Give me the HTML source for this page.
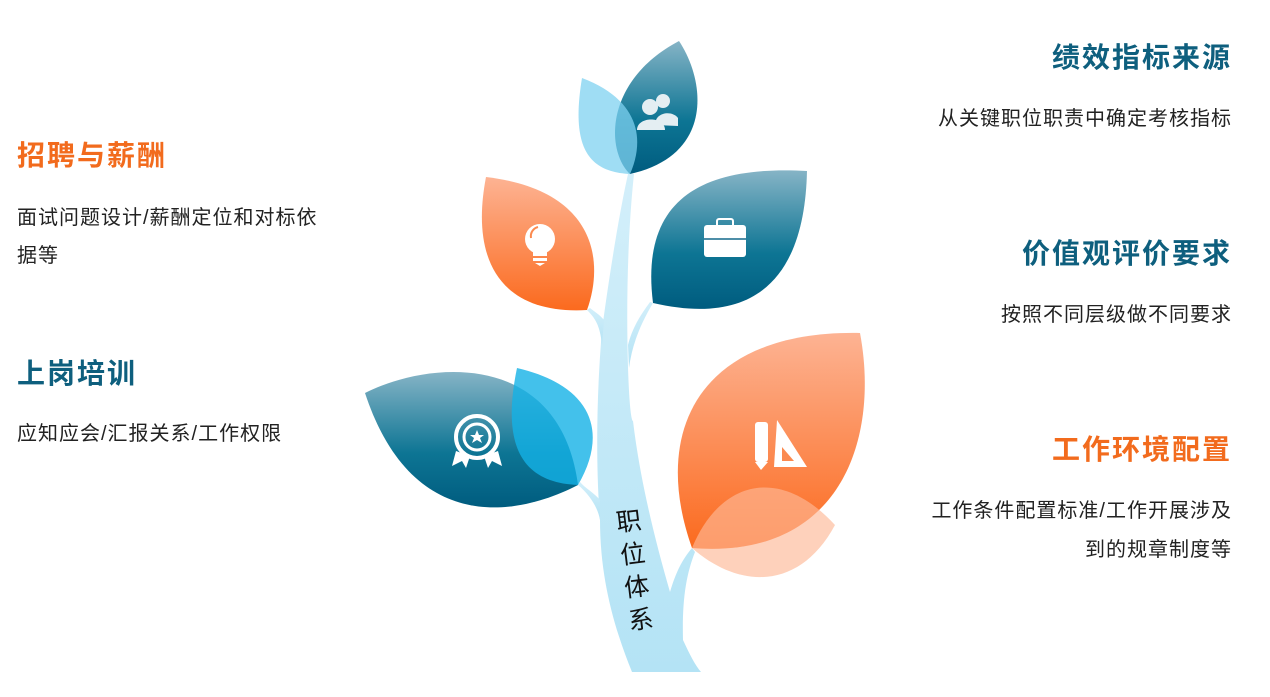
<!DOCTYPE html>
<html><head><meta charset="utf-8"><style>
body{margin:0;width:1270px;height:697px;background:#fff;position:relative;overflow:hidden;font-family:"Liberation Sans","Noto Sans CJK SC",sans-serif}
.t{position:absolute;white-space:nowrap}
.h{font-size:28px;font-weight:bold;letter-spacing:2px}
.s{font-size:20px;letter-spacing:1px;color:#222}
.b{color:#0e5f7e}.o{color:#f26b1d}
.r{text-align:right;right:38px}
</style></head><body>
<svg width="1270" height="697" style="position:absolute;left:0;top:0">
<defs>
<linearGradient id="db" x1="0" y1="0" x2="0" y2="1"><stop offset="0" stop-color="#86b4c6"/><stop offset="0.6" stop-color="#0d7594"/><stop offset="1" stop-color="#005c7f"/></linearGradient>
<linearGradient id="or" x1="0" y1="0" x2="0" y2="1"><stop offset="0" stop-color="#fdb393"/><stop offset="1" stop-color="#fb6a1e"/></linearGradient>
<linearGradient id="tr" x1="0" y1="0" x2="0" y2="1"><stop offset="0" stop-color="#d3effa"/><stop offset="1" stop-color="#b4e3f5"/></linearGradient>
</defs>
<path fill="url(#tr)" d="M632,672 C615,630 600,580 600,520 C596,470 596,400 602,330 C610,270 620,210 628,174 L634,174 C628,230 626,300 628,367 C629,400 631,421 633,421 C640,480 655,540 670,592 C676,572 682,560 692,548 L695,552 C686,575 682,600 683,640 C690,655 695,665 701,672 Z"/>
<path fill="url(#tr)" d="M587,310 C595,318 600,325 602,345 L604,320 C600,315 595,312 590,308 Z"/>
<path fill="url(#tr)" d="M653,303 C640,325 632,345 629,368 L628,345 C633,325 643,312 650,302 Z"/>
<path fill="url(#tr)" d="M578,485 C590,495 598,508 600,520 L600,500 C593,492 585,488 580,482 Z"/>
<path fill="url(#db)" d="M630,174 C605,150 605,80 679,41 C705,80 715,155 630,174 Z"/>
<path fill="#7fd1f0" opacity="0.75" d="M582,78 C570,150 590,172 630,174 C645,140 640,100 582,78 Z"/>
<path fill="url(#or)" d="M486,177 C470,260 500,315 587,310 C605,260 595,190 486,177 Z"/>
<path fill="url(#db)" d="M653,303 C640,200 700,165 807,171 C805,260 770,330 653,303 Z"/>
<path fill="url(#db)" d="M365,393 C430,360 560,350 578,485 C510,520 410,530 365,393 Z"/>
<path fill="#14b2e6" opacity="0.8" d="M517,368 C500,450 525,483 578,485 C610,430 590,385 517,368 Z"/>
<path fill="url(#or)" d="M692,548 C650,430 700,330 860,333 C880,440 840,560 692,548 Z"/>
<path fill="#fdb896" opacity="0.65" d="M692,548 C720,480 780,465 835,525 C800,590 740,590 692,548 Z"/>
<g fill="#e4eef2"><circle cx="663" cy="101" r="7"/><path d="M655,125 C655,112 672,110 678,118 L678,126 Z"/><circle cx="650" cy="107" r="8"/><path d="M637,130 C637,116 665,116 665,130 Z"/></g>
<g fill="#fff"><circle cx="540" cy="239" r="15"/><rect x="533" y="250" width="14" height="6"/><rect x="533" y="258" width="14" height="3"/><path d="M535,263 L545,263 L540,266 Z"/></g>
<path d="M531,238 C530,232 534,228 538,227" stroke="#fb8a50" stroke-width="2" fill="none"/>
<g fill="#fff"><rect x="704" y="225" width="42" height="32" rx="3"/><rect x="717" y="219" width="16" height="8" rx="2" fill="none" stroke="#fff" stroke-width="2"/></g>
<rect x="704" y="238" width="42" height="2" fill="#4e8ea8"/>
<g><circle cx="477" cy="437" r="21" fill="none" stroke="#fff" stroke-width="4"/><circle cx="477" cy="437" r="13" fill="none" stroke="#fff" stroke-width="3"/><path d="M477,430 L479,435 L484,435 L480,438 L482,443 L477,440 L472,443 L474,438 L470,435 L475,435 Z" fill="#fff"/><path d="M456,451 L452,466 L462,461 L466,468 L470,456 Z M498,451 L502,466 L492,461 L488,468 L484,456 Z" fill="#fff"/></g>
<g fill="#fff"><rect x="755" y="422" width="13" height="40" rx="3"/><path d="M755,462 L768,462 L761,470 Z"/><path d="M777,420 L807,467 L774,467 Z"/></g>
<path d="M782,447 L782,461 L794,461 Z" fill="#fb8a50"/>
</svg>
<div class="t" style="left:612px;top:508px;font-size:25px;line-height:33px;width:30px;text-align:center;transform:rotate(-7deg);transform-origin:top left;color:#111">职<br>位<br>体<br>系</div>
<div class="t h b r" style="top:36px">绩效指标来源</div>
<div class="t s r" style="top:102px">从关键职位职责中确定考核指标</div>
<div class="t h b r" style="top:232px">价值观评价要求</div>
<div class="t s r" style="top:298px">按照不同层级做不同要求</div>
<div class="t h o r" style="top:428px">工作环境配置</div>
<div class="t s r" style="top:494px">工作条件配置标准/工作开展涉及</div>
<div class="t s r" style="top:533px">到的规章制度等</div>
<div class="t h o" style="left:17px;top:134px">招聘与薪酬</div>
<div class="t s" style="left:17px;top:201px">面试问题设计/薪酬定位和对标依</div>
<div class="t s" style="left:17px;top:239px">据等</div>
<div class="t h b" style="left:17px;top:352px">上岗培训</div>
<div class="t s" style="left:17px;top:417px">应知应会/汇报关系/工作权限</div>
</body></html>
